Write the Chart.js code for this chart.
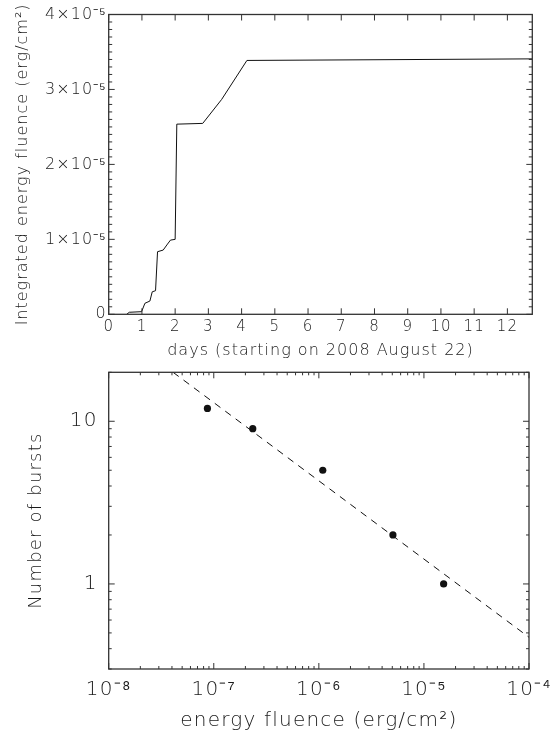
<!DOCTYPE html>
<html>
<head>
<meta charset="utf-8">
<title>Integrated energy fluence and burst numbers</title>
<script src="https://cdn.jsdelivr.net/npm/chart.js@4.4.1/dist/chart.umd.min.js"></script>
<style>
  html, body { margin: 0; padding: 0; background: #fff; }
  canvas { position: absolute; left: 0; }
  #fluenceChart { top: 0; }
  #burstChart { top: 368px; }
</style>
</head>
<body>
<canvas id="fluenceChart" width="550" height="368"></canvas>
<canvas id="burstChart" width="550" height="369"></canvas>
<script>
// top panel: cumulative energy fluence vs time
const days = [0.54, 0.62, 0.99, 1.09, 1.24, 1.31, 1.41, 1.47, 1.64, 1.77, 1.86, 2.0, 2.05, 2.83, 3.40, 4.16, 12.75];
const fluence = [0, 2.7e-7, 3.5e-7, 1.47e-6, 1.77e-6, 3.0e-6, 3.15e-6, 8.35e-6, 8.57e-6, 9.37e-6, 9.9e-6, 1.0e-5,
                 2.537e-5, 2.547e-5, 2.867e-5, 3.387e-5, 3.408e-5];
const dayTicks = [0, 1, 2, 3, 4, 5, 6, 7, 8, 9, 10, 11, 12];
const fluenceTicks = [0, 1e-5, 2e-5, 3e-5, 4e-5];
const fluenceTickLabels = ['0', '1×10⁻⁵', '2×10⁻⁵', '3×10⁻⁵', '4×10⁻⁵'];

// bottom panel: number of bursts above a fluence
const burstFluence = [8.7e-8, 2.35e-7, 1.09e-6, 5.07e-6, 1.54e-5];
const burstCounts = [12, 9, 5, 2, 1];
const fitFluence = [4.1e-8, 1e-4];
const fitCounts = [20, 0.47];
const decadeTicks = [1e-8, 1e-7, 1e-6, 1e-5, 1e-4];
const decadeLabels = ['10⁻⁸', '10⁻⁷', '10⁻⁶', '10⁻⁵', '10⁻⁴'];
const countTicks = [1, 10];
const countTickLabels = ['1', '10'];

const FONT = "'DejaVu Sans', sans-serif";
const INK = '#1a1a1a';

function labelFor(value, vals, labels) {
    const i = vals.findIndex(v => Math.abs(v - value) <= Math.abs(v) * 1e-6 + 1e-15);
    return i >= 0 ? labels[i] : '';
}

// frame with inward tick marks on all four sides (IDL style)
const boxTicks = {
    id: 'boxTicks',
    beforeDraw(chart, args, opts) {
        chart.ctx.letterSpacing = opts.spacing + 'px';
    },
    afterDraw(chart, args, opts) {
        const { ctx, chartArea: a } = chart;
        const xs = chart.scales.x, ys = chart.scales.y;
        ctx.save();
        ctx.strokeStyle = '#333';
        ctx.lineWidth = 1.3;
        ctx.strokeRect(a.left, a.top, a.width, a.height);
        ctx.lineWidth = 1;
        ctx.beginPath();
        xs.ticks.forEach(t => {
            const p = xs.getPixelForValue(t.value);
            const len = t.label ? opts.major : opts.minor;
            ctx.moveTo(p, a.bottom); ctx.lineTo(p, a.bottom - len);
            ctx.moveTo(p, a.top); ctx.lineTo(p, a.top + len);
        });
        ys.ticks.forEach(t => {
            const p = ys.getPixelForValue(t.value);
            const len = t.label ? opts.major : opts.minor;
            ctx.moveTo(a.left, p); ctx.lineTo(a.left + len, p);
            ctx.moveTo(a.right, p); ctx.lineTo(a.right - len, p);
        });
        ctx.stroke();
        ctx.restore();
    }
};

function logMinors(lo, hi) {
    const out = [];
    for (let e = Math.floor(Math.log10(lo)); e <= Math.ceil(Math.log10(hi)); e++) {
        for (let m = 1; m <= 9; m++) {
            const v = m * Math.pow(10, e);
            if (v >= lo * 0.999 && v <= hi * 1.001) out.push(v);
        }
    }
    return out;
}

// ---- top chart ----
new Chart(document.getElementById('fluenceChart'), {
    type: 'line',
    data: {
        datasets: [{
            data: days.map((d, i) => ({ x: d, y: fluence[i] })),
            borderColor: '#111',
            borderWidth: 1,
            pointRadius: 0,
            tension: 0,
            fill: false
        }]
    },
    options: {
        responsive: false,
        animation: false,
        devicePixelRatio: 1,
        layout: { padding: { top: 14.5, right: 17.7, bottom: 0, left: 0 } },
        plugins: {
            legend: { display: false },
            tooltip: { enabled: false },
            boxTicks: { spacing: 1, major: 6, minor: 3.5 }
        },
        scales: {
            x: {
                type: 'linear',
                min: 0,
                max: 12.75,
                afterBuildTicks: s => { s.ticks = dayTicks.map(v => ({ value: v })); },
                afterFit: s => { s.height = 368 - 314.3; s.paddingLeft = 0; s.paddingRight = 0; },
                grid: { display: false, drawTicks: false },
                border: { display: false },
                ticks: {
                    autoSkip: false, maxRotation: 0, padding: 3.4, color: INK,
                    font: { family: FONT, size: 15, weight: '300' },
                    callback: v => String(v)
                },
                title: {
                    display: true, text: 'days (starting on 2008 August 22)', color: INK,
                    font: { family: FONT, size: 16, weight: '300' }, padding: { top: 0, bottom: 7.4 }
                }
            },
            y: {
                type: 'linear',
                min: 0,
                max: 4e-5,
                afterBuildTicks: s => {
                    const t = [];
                    for (let i = 0; i <= 40; i++) t.push({ value: i * 1e-6 });
                    s.ticks = t;
                },
                afterFit: s => { s.width = 108.7; s.paddingTop = 0; s.paddingBottom = 0; },
                grid: { display: false, drawTicks: false },
                border: { display: false },
                ticks: {
                    autoSkip: false, padding: 2, color: INK,
                    font: { family: FONT, size: 16, weight: '300' },
                    callback: v => labelFor(v, fluenceTicks, fluenceTickLabels)
                },
                title: {
                    display: true, text: 'Integrated energy fluence (erg/cm²)', color: INK,
                    font: { family: FONT, size: 16, weight: '300' }, padding: { top: 13.4, bottom: 0 }
                }
            }
        }
    },
    plugins: [boxTicks]
});

// ---- bottom chart ----
new Chart(document.getElementById('burstChart'), {
    type: 'scatter',
    data: {
        datasets: [{
            data: burstFluence.map((f, i) => ({ x: f, y: burstCounts[i] })),
            backgroundColor: '#111',
            borderWidth: 0,
            pointRadius: 3.6
        }, {
            data: fitFluence.map((f, i) => ({ x: f, y: fitCounts[i] })),
            showLine: true,
            borderColor: '#111',
            borderWidth: 1,
            borderDash: [7, 6],
            pointRadius: 0
        }]
    },
    options: {
        responsive: false,
        animation: false,
        devicePixelRatio: 1,
        layout: { padding: { top: 4.3, right: 21, bottom: 0, left: 0 } },
        plugins: {
            legend: { display: false },
            tooltip: { enabled: false },
            boxTicks: { spacing: 1.2, major: 6, minor: 3 }
        },
        scales: {
            x: {
                type: 'logarithmic',
                min: 1e-8,
                max: 1e-4,
                afterBuildTicks: s => { s.ticks = logMinors(1e-8, 1e-4).map(v => ({ value: v })); },
                afterFit: s => { s.height = 68; s.paddingLeft = 0; s.paddingRight = 0; },
                grid: { display: false, drawTicks: false },
                border: { display: false },
                ticks: {
                    autoSkip: false, maxRotation: 0, padding: 9, color: INK,
                    font: { family: FONT, size: 20, weight: '300' },
                    callback: v => labelFor(v, decadeTicks, decadeLabels)
                },
                title: {
                    display: true, text: 'energy fluence (erg/cm²)', color: INK,
                    font: { family: FONT, size: 20, weight: '300' }, padding: { top: 0, bottom: 4 }
                }
            },
            y: {
                type: 'logarithmic',
                min: 0.3,
                max: 20,
                afterBuildTicks: s => { s.ticks = logMinors(0.3, 20).map(v => ({ value: v })); },
                afterFit: s => { s.width = 108.7; s.paddingTop = 0; s.paddingBottom = 0; },
                grid: { display: false, drawTicks: false },
                border: { display: false },
                ticks: {
                    autoSkip: false, padding: 11, color: INK,
                    font: { family: FONT, size: 20, weight: '300' },
                    callback: v => labelFor(v, countTicks, countTickLabels)
                },
                title: {
                    display: true, text: 'Number of bursts', color: INK,
                    font: { family: FONT, size: 18, weight: '300' }, padding: { top: 25.9, bottom: 0 }
                }
            }
        }
    },
    plugins: [boxTicks]
});
</script>
</body>
</html>
